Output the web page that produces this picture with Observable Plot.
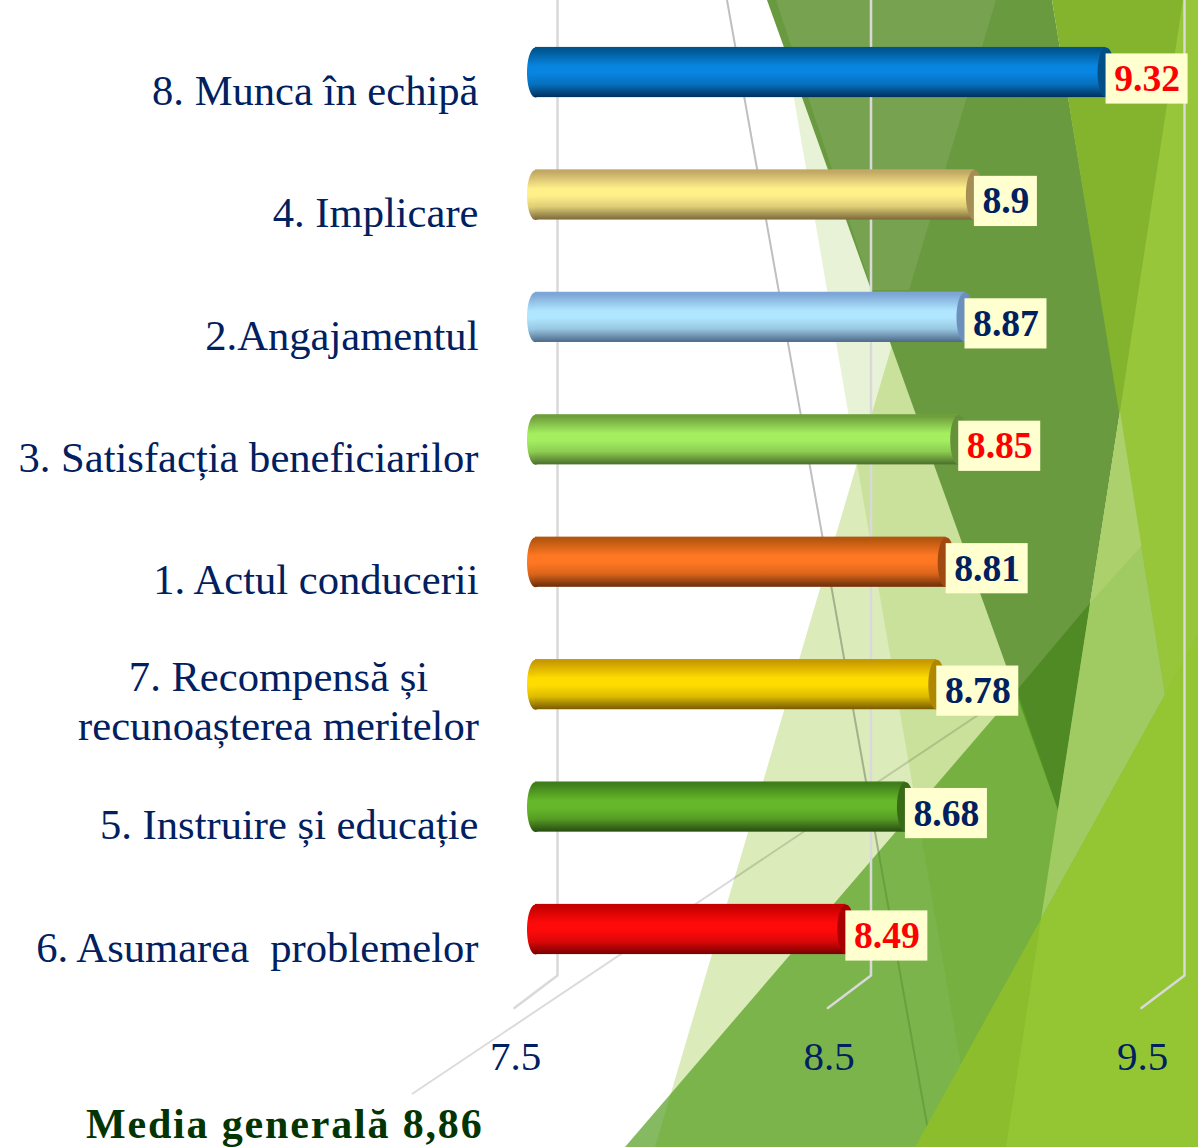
<!DOCTYPE html>
<html lang="ro">
<head>
<meta charset="utf-8">
<title>Media generală 8,86</title>
<style>
  html, body { margin: 0; padding: 0; background: #fff; }
  #page { width: 1198px; height: 1147px; overflow: hidden; background-repeat: no-repeat; }
  #page svg { display: block; }
</style>
<script src="https://cdn.jsdelivr.net/npm/d3@7"></script>
<script src="https://cdn.jsdelivr.net/npm/@observablehq/plot@0.6"></script>
</head>
<body>
<div id="page"></div>
<script>
// ---------- chart data ----------
const categories = [
  "8. Munca în echipă",
  "4. Implicare",
  "2.Angajamentul",
  "3. Satisfacția beneficiarilor",
  "1. Actul conducerii",
  "7. Recompensă și\nrecunoașterea meritelor",
  "5. Instruire și educație",
  "6. Asumarea  problemelor"
];
const scores = [9.32, 8.9, 8.87, 8.85, 8.81, 8.78, 8.68, 8.49];
const tickValues = [7.5, 8.5, 9.5];
const baseline = 7.5;
const overallLabel = "Media generală 8,86";

// cylinder shading: edge, highlight, shadow, end cap
const edgeColors   = ["#00558f", "#c2a865", "#7da6d6", "#6f9f3c", "#b4560f", "#c99a00", "#3f7e1a", "#c40000"];
const lightColors  = ["#0885e0", "#fff08a", "#b0e6ff", "#a4ee60", "#ff7722", "#ffdc00", "#66b82a", "#ff0a0a"];
const shadowColors = ["#00305c", "#7c683a", "#4c6888", "#4b6e2b", "#6b2d08", "#785a00", "#284c10", "#780000"];
const capColors    = ["#004f86", "#a48e55", "#6c90bc", "#64913a", "#a04a12", "#b08800", "#386b18", "#a80000"];
const labelColors  = ["#ff0000", "#002060", "#002060", "#ff0000", "#002060", "#002060", "#002060", "#ff0000"];

const rows = categories.map((name, i) => ({
  name, score: scores[i], gradient: `url(#cyl${i})`, cap: capColors[i], labelColor: labelColors[i]
}));

// ---------- page furniture: the decorative theme facets behind the chart ----------
const paleFacets = [
  ["777,0 975,1147 1300,1147 1060,810 767,0", "rgba(120,175,10,.17)"],
  ["655,1147 895,335 1100,930 1100,1147", "rgba(123,180,0,.27)"]
];
const threads = [
  ["727,0 931,1147", "rgba(0,0,0,.25)"],
  ["412,1094 1090,640", "rgba(0,0,0,.14)"]
];
const facets = [
  ["767,0 1052,0 1120,411 1058,810", "#6a9a40"],
  ["776,0 996,0 909,290 872,290", "rgba(255,255,255,.09)"],
  ["625,1147 1198,480 1198,1147", "rgba(75,152,21,.67)"],
  ["1017,690 1090,603 1058,810", "#508a25"],
  ["1052,0 1198,0 1198,1147 1165,695", "#84b32e"],
  ["1183,0 1198,0 1198,1147 1165,695 1120,411", "#97c63b"],
  ["1120,411 1165,695 1041,919", "#a0cb62"],
  ["1120,411 1141.5,546 1090,603", "#abd06c"],
  ["915,1147 1198,635 1198,1147", "#8bbd2c"],
  ["1041,919 1006,1147 1198,1147 1198,635", "#94c633"]
];
const polygonsOf = list => list.map(([p, f]) => `<polygon points="${p}" fill="${f}"/>`).join("");
const backdrop = `<svg xmlns="http://www.w3.org/2000/svg" width="1198" height="1147">` +
  polygonsOf(paleFacets) +
  threads.map(([p, s]) => `<polyline points="${p}" fill="none" stroke="${s}" stroke-width="2"/>`).join("") +
  polygonsOf(facets) +
  `</svg>`;
document.getElementById("page").style.backgroundImage =
  `url("data:image/svg+xml,${encodeURIComponent(backdrop)}")`;

// ---------- marks helpers ----------
const serif = "'Liberation Serif', 'Times New Roman', serif";
const navy = "#002060";
const gridColor = "#d9d9d9";
const unit = 313.5;                 // pixels per score unit
const boxWidth = d => (String(d.score).length === 3 ? 63 : 82) / unit;

const capSymbol = {
  draw(c, size) {
    const ry = Math.sqrt(size / Math.PI), rx = ry * 0.34, k = 0.5523;
    c.moveTo(0, -ry);
    c.bezierCurveTo(rx * k, -ry, rx, -ry * k, rx, 0);
    c.bezierCurveTo(rx, ry * k, rx * k, ry, 0, ry);
    c.bezierCurveTo(-rx * k, ry, -rx, ry * k, -rx, 0);
    c.bezierCurveTo(-rx, -ry * k, -rx * k, -ry, 0, -ry);
    c.closePath();
  }
};
const floorShape = { draw(c, l) { c.moveTo(0, 0); c.lineTo(0, -l); } };

const gradients = () => {
  const defs = d3.create("svg:defs");
  categories.forEach((_, i) => {
    const g = defs.append("linearGradient")
      .attr("id", `cyl${i}`).attr("x1", 0).attr("y1", 0).attr("x2", 0).attr("y2", 1);
    const soft = d3.interpolateRgb(lightColors[i], shadowColors[i]);
    [[0, edgeColors[i]], [0.05, edgeColors[i]], [0.38, lightColors[i]], [0.52, lightColors[i]], [0.74, soft(0.25)], [1, shadowColors[i]]]
      .forEach(([o, c]) => g.append("stop").attr("offset", o).attr("stop-color", c));
  });
  return defs.node();
};

const singleLine = rows.filter(d => !d.name.includes("\n"));
const multiLine = rows.filter(d => d.name.includes("\n"));

const chart = Plot.plot({
  width: 1198,
  height: 1147,
  marginTop: 0, marginRight: 0, marginLeft: 0, marginBottom: 172,
  style: { background: "transparent", fontFamily: serif, overflow: "visible" },
  x: { domain: [7.5, 9.5], range: [535, 535 + 2 * unit], axis: null },
  y: { domain: categories, range: [10.8, 990.2], paddingInner: 0.59, paddingOuter: 0.295, round: false, axis: null },
  color: { type: "identity" },
  marks: [
    gradients,
    // back-wall grid and its floor
    Plot.ruleX(tickValues, { x: d => d, dx: 22, stroke: gridColor, strokeWidth: 2.5 }),
    Plot.vector(tickValues, {
      x: d => d, frameAnchor: "bottom", dx: 22, anchor: "start",
      length: 54, rotate: 233, shape: floorShape, stroke: gridColor, strokeWidth: 2.5
    }),
    // cylinders
    Plot.dot(rows, { x: () => baseline, y: "name", r: 25, symbol: capSymbol, fill: "gradient" }),
    Plot.barX(rows, { x1: () => baseline, x2: "score", y: "name", fill: "gradient" }),
    Plot.dot(rows, { x: "score", y: "name", r: 25, symbol: capSymbol, fill: "cap" }),
    // value tags
    Plot.barX(rows, { x1: "score", x2: d => d.score + boxWidth(d), y: "name", dy: 6.5, fill: "#ffffd0" }),
    Plot.text(rows, {
      x: d => d.score + boxWidth(d) / 2, y: "name", dy: 6.5, text: d => String(d.score),
      fill: "labelColor", fontSize: 37.6, fontWeight: "bold", fontFamily: serif
    }),
    // category labels
    Plot.text(singleLine, {
      y: "name", text: "name", frameAnchor: "left", dx: 478, dy: 18.5,
      textAnchor: "end", fill: navy, fontSize: 42.6, fontFamily: serif
    }),
    Plot.text(multiLine, {
      y: "name", text: "name", frameAnchor: "left", dx: 278, dy: 15,
      textAnchor: "middle", lineHeight: 1.15, fill: navy, fontSize: 42.6, fontFamily: serif
    }),
    // score axis, drawn at the front of the floor
    Plot.axisX({
      ticks: tickValues, tickSize: 0, tickPadding: 65, dx: -20,
      tickFormat: d3.format(".1f"), fill: navy, fontSize: 41, fontFamily: serif, label: null
    }),
    // overall mean
    Plot.text([overallLabel], {
      frameAnchor: "bottom-left", dx: 483, dy: 162, textAnchor: "end",
      fill: "#033503", fontSize: 42, fontWeight: "bold", fontFamily: serif
    })
  ]
});
// the reference sets this caption wider than Liberation Serif's natural width
d3.select(chart).selectAll("text")
  .filter(function () { return this.textContent === overallLabel; })
  .style("letter-spacing", "1.83px");
document.getElementById("page").appendChild(chart);
</script>
</body>
</html>
